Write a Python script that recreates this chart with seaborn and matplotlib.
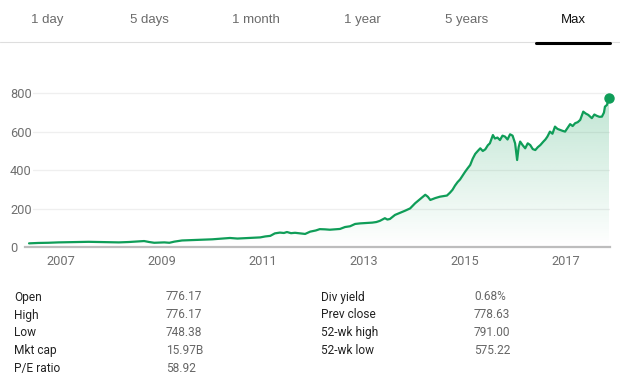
import numpy as np
import matplotlib
matplotlib.use("Agg")
import matplotlib.pyplot as plt
import seaborn as sns
from matplotlib.lines import Line2D
from matplotlib.colors import to_rgb

# ---------------------------
# Datos del grafico
# ---------------------------
years = [
    2006.37, 2006.55, 2006.75, 2006.95, 2007.15, 2007.35, 2007.55, 2007.75, 2007.95, 2008.15,
    2008.35, 2008.55, 2008.65, 2008.75, 2008.85, 2008.95, 2009.05, 2009.15, 2009.25, 2009.40,
    2009.60, 2009.80, 2010.00, 2010.20, 2010.35, 2010.50, 2010.65, 2010.80, 2010.95, 2011.05,
    2011.15, 2011.24, 2011.34, 2011.42, 2011.48, 2011.56, 2011.64, 2011.74, 2011.84, 2011.94,
    2012.05, 2012.13, 2012.23, 2012.33, 2012.43, 2012.53, 2012.63, 2012.73, 2012.83, 2012.93,
    2013.05, 2013.17, 2013.25, 2013.32, 2013.42, 2013.47, 2013.52, 2013.62, 2013.72, 2013.82,
    2013.92, 2014.02, 2014.12, 2014.22, 2014.27, 2014.32, 2014.42, 2014.51, 2014.58, 2014.65,
    2014.71, 2014.76, 2014.81, 2014.86, 2014.91, 2014.96, 2015.01, 2015.06, 2015.11, 2015.16,
    2015.21, 2015.26, 2015.31, 2015.36, 2015.41, 2015.46, 2015.50, 2015.56, 2015.60, 2015.65,
    2015.70, 2015.75, 2015.80, 2015.85, 2015.90, 2015.95, 2016.00, 2016.04, 2016.07, 2016.10,
    2016.15, 2016.20, 2016.25, 2016.30, 2016.35, 2016.40, 2016.45, 2016.50, 2016.56, 2016.60,
    2016.64, 2016.69, 2016.74, 2016.79, 2016.84, 2016.89, 2016.94, 2016.99, 2017.04, 2017.09,
    2017.14, 2017.19, 2017.24, 2017.29, 2017.35, 2017.40, 2017.45, 2017.52, 2017.57, 2017.62,
    2017.67, 2017.72, 2017.76, 2017.78, 2017.82, 2017.86,
]
prices = [
    19, 21, 22, 24, 25, 26, 27, 26, 25, 24,
    26, 29, 31, 26, 22, 23, 24, 22, 28, 34,
    36, 38, 40, 44, 47, 44, 46, 48, 50, 55,
    58, 71, 75, 73, 78, 72, 74, 71, 68, 80,
    86, 93, 92, 90, 92, 94, 104, 108, 120, 123,
    125, 127, 130, 136, 150, 143, 146, 167, 178, 189,
    201, 228, 250, 272, 262, 245, 255, 262, 265, 268,
    283, 298, 320, 338, 352, 372, 392, 410, 427, 460,
    485, 500, 514, 500, 509, 530, 540, 583, 565, 570,
    557, 580, 575, 560, 587, 580, 540, 453, 520, 549,
    530, 514, 540, 531, 510, 505, 520, 531, 549, 560,
    575, 601, 590, 627, 615, 610, 605, 601, 620, 640,
    630, 645, 650, 662, 705, 695, 688, 671, 690, 683,
    678, 679, 700, 731, 740, 778,
]

year_ticks = [2007, 2009, 2011, 2013, 2015, 2017]
price_ticks = [0, 200, 400, 600, 800]

tabs = ["1 day", "5 days", "1 month", "1 year", "5 years", "Max"]
tab_x = [47, 149, 256, 362, 467, 573]

left_labels = ["Open", "High", "Low", "Mkt cap", "P/E ratio"]
left_values = ["776.17", "776.17", "748.38", "15.97B", "58.92"]
right_labels = ["Div yield", "Prev close", "52-wk high", "52-wk low"]
right_values = ["0.68%", "778.63", "791.00", "575.22"]

GREEN = "#0f9d58"
W, H = 620, 386

sns.set_style("white")
plt.rcParams["font.family"] = ["Roboto", "DejaVu Sans"]

fig = plt.figure(figsize=(W / 100, H / 100), dpi=100)
ax = fig.add_axes([25 / W, 139 / H, 585 / W, 162 / H])

xmin, xmax = 2006.29, 2017.88
ymax = 162 / 0.192

# ---------------------------
# Linea principal
# ---------------------------
sns.lineplot(x=years, y=prices, ax=ax, color=GREEN, linewidth=1.6, zorder=3)
ax.plot(years[-1], prices[-1], "o", color=GREEN, markersize=6.5, zorder=4, clip_on=False)

# Relleno en degradado debajo de la linea
r, g, b = to_rgb(GREEN)
n = 256
grad = np.zeros((n, 2, 4))
grad[:, :, 0] = r
grad[:, :, 1] = g
grad[:, :, 2] = b
grad[:, :, 3] = np.linspace(0, 0.27, n)[:, None]
im = ax.imshow(grad, extent=[xmin, xmax, 0, 800], origin="lower", aspect="auto", zorder=1)
poly = ax.fill_between(years, prices, 0, color="none", linewidth=0)
im.set_clip_path(poly.get_paths()[0], transform=ax.transData)

# Lineas de referencia
for v in price_ticks[1:]:
    ax.axhline(v, xmin=8 / 585, color="#efefef", linewidth=0.9, zorder=0)

ax.set_xlim(xmin, xmax)
ax.set_ylim(0, ymax)
ax.set_xticks(year_ticks)
ax.set_xticklabels([str(y) for y in year_ticks])
ax.set_yticks(price_ticks)
ax.set_yticklabels([str(p) for p in price_ticks])

for side in ["top", "right", "left"]:
    ax.spines[side].set_visible(False)
ax.spines["bottom"].set_color("#bdbdbd")
ax.spines["bottom"].set_linewidth(1.6)

ax.tick_params(axis="x", length=4, width=1, color="#bdbdbd", direction="out",
               labelsize=9.2, labelcolor="#6f6f6f", pad=2)
ax.tick_params(axis="y", length=0, labelsize=9.2, labelcolor="#6f6f6f", pad=10.8)
for lab in ax.get_yticklabels():
    lab.set_horizontalalignment("left")
ax.set_xlabel("")
ax.set_ylabel("")

# ---------------------------
# Pestanas superiores
# ---------------------------
for t, x in zip(tabs, tab_x):
    col = "#111111" if t == "Max" else "#6b6b6b"
    fig.text(x / W, 1 - 20 / H, t, ha="center", va="center", fontsize=9.5,
             color=col, family=["Liberation Sans", "DejaVu Sans"])
fig.add_artist(Line2D([0, 1], [1 - 41.7 / H] * 2, color="#dedede", linewidth=0.8))
fig.add_artist(Line2D([536 / W, 610 / W], [1 - 43 / H] * 2, color="black", linewidth=2.2))

# ---------------------------
# Tabla de datos
# ---------------------------
row_y = [297, 315, 332.5, 350.5, 368.5]
for i, (lab, val) in enumerate(zip(left_labels, left_values)):
    fig.text(14 / W, 1 - row_y[i] / H, lab, ha="left", va="center", fontsize=8.6, color="#222222")
    fig.text(166 / W, 1 - row_y[i] / H, val, ha="left", va="center", fontsize=8.6, color="#666666")
for i, (lab, val) in enumerate(zip(right_labels, right_values)):
    fig.text(321 / W, 1 - row_y[i] / H, lab, ha="left", va="center", fontsize=8.6, color="#222222")
    fig.text(474 / W, 1 - row_y[i] / H, val, ha="left", va="center", fontsize=8.6, color="#666666")

fig.savefig("out.png", dpi=100)
